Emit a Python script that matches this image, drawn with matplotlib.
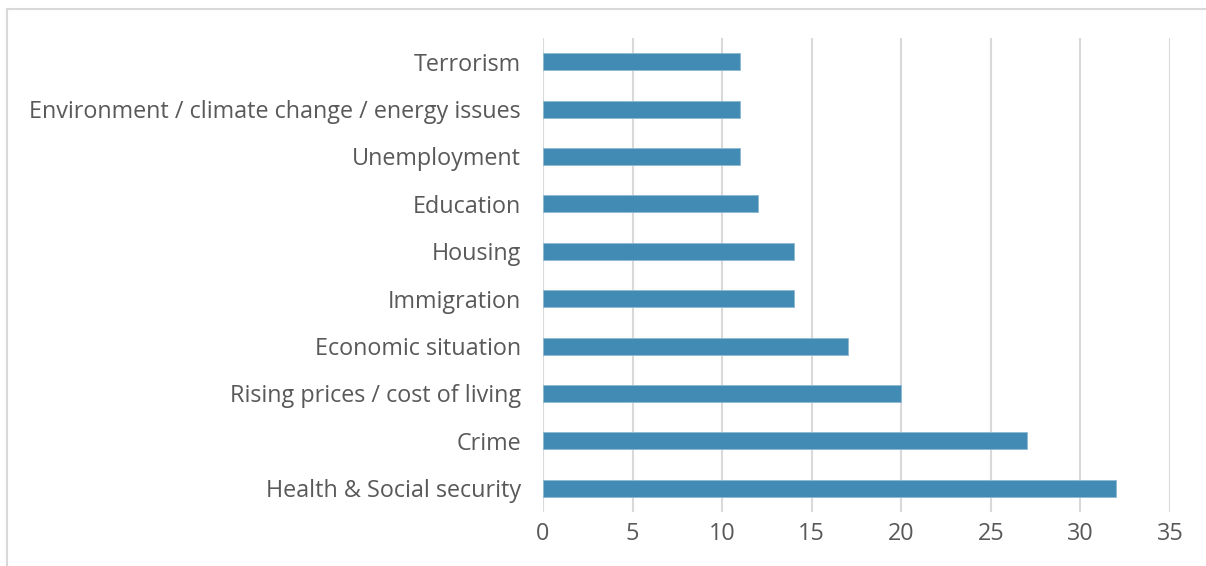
import matplotlib
matplotlib.use("Agg")
import matplotlib.pyplot as plt
from matplotlib.patches import Rectangle

# data (top to bottom as shown in the chart)
categories = [
    "Terrorism",
    "Environment / climate change / energy issues",
    "Unemployment",
    "Education",
    "Housing",
    "Immigration",
    "Economic situation",
    "Rising prices / cost of living",
    "Crime",
    "Health & Social security",
]
values = [11, 11, 11, 12, 14, 14, 17, 20, 27, 32]
xticks = [0, 5, 10, 15, 20, 25, 30, 35]

W, H = 1206, 566
plt.rcParams['font.family'] = ['Open Sans', 'DejaVu Sans']

fig = plt.figure(figsize=(W / 100, H / 100), dpi=100)
ax = fig.add_axes([543 / W, 1 - 512 / H, (1170 - 543) / W, (512 - 38) / H])

# chart frame (only top and left edges visible)
fig.patches.append(Rectangle((7 / W, -0.1), 1.2, 1.1 - 9 / H, transform=fig.transFigure,
                             fill=False, edgecolor='#D9D9D9', linewidth=1.5))

ypos = list(range(len(categories)))[::-1]
ax.barh(ypos, values, height=0.36, color='#428BB4', edgecolor='#8DB8D3', linewidth=0.6, zorder=3)

ax.set_xlim(0, 35)
ax.set_ylim(-0.5, len(categories) - 0.5)
ax.set_xticks(xticks)
ax.set_yticks(ypos)
ax.set_yticklabels(categories)
ax.grid(axis='x', color='#D9D9D9', linewidth=1.5, zorder=0)
for s in ax.spines.values():
    s.set_visible(False)
ax.tick_params(axis='both', length=0, colors='#595959', labelsize=16.8)
ax.tick_params(axis='y', pad=16)
ax.tick_params(axis='x', pad=7)

fig.savefig("out.png", dpi=100)
